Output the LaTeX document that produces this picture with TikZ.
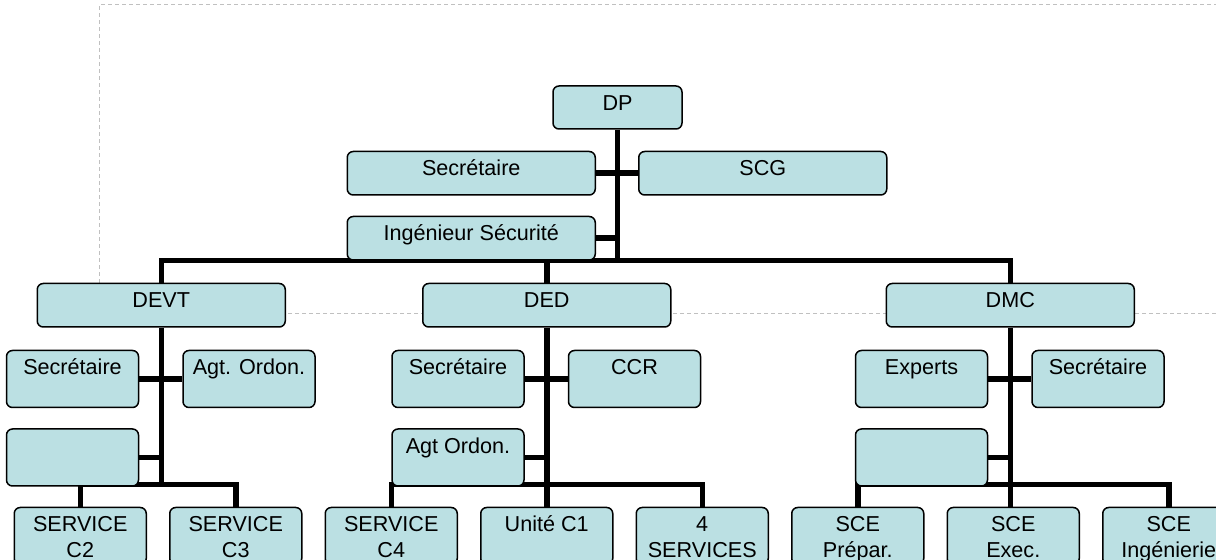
\documentclass[tikz,border=0pt]{standalone}
\usepackage{fontspec}
\setmainfont{Liberation Sans}
\usepackage{tikz}
\usetikzlibrary{positioning, backgrounds}
\definecolor{boxfill}{RGB}{187,224,227}
\definecolor{framegray}{RGB}{192,192,192}

\begin{document}
\begin{tikzpicture}[x=0.5pt, y=-0.5pt, node distance=10pt and 11pt,
    box/.style={draw, fill=boxfill, line width=0.75pt, rounded corners=3pt,
      inner sep=0pt, align=center, text height=12.25pt,
      font=\fontsize{10.8}{13}\selectfont},
    dpbox/.style={box, minimum width=64.5pt, text depth=9.25pt},
    widebox/.style={box, minimum width=124pt, text depth=9.5pt},
    smallbox/.style={box, minimum width=66pt, text depth=16.25pt},
    twobox/.style={box, minimum width=66pt, text height=25.25pt, text depth=3.25pt},
    link/.style={line width=2.75pt},
    pageframe/.style={draw=framegray, line width=0.5pt, dash pattern=on 2pt off 1.5pt}]

    \useasboundingbox (0,0) rectangle (1216,560);
    \clip (0,0) rectangle (1216,560);

    % Nodes
    \node (DP) [dpbox] at (617.5,107.5) {DP};
    \node (SEC) [below left=10.5pt and 10.75pt of DP.south, widebox] {Secrétaire};
    \node (SCG) [below right=10.5pt and 10.25pt of DP.south, widebox] {SCG};
    \node (ING) [below=of SEC, widebox] {Ingénieur Sécurité};

    \node (DEVT) [below left=76.5pt and 165.75pt of DP.south, widebox] {DEVT};
    \node (DED) [right=68pt of DEVT, widebox] {DED};
    \node (DMC) [right=107pt of DED, widebox] {DMC};

    \node (DVSEC) [below left=11pt and 11pt of DEVT.south, smallbox] {Secrétaire};
    \node (DVAGT) [below right=11pt and 10.5pt of DEVT.south, smallbox] {Agt. Ordon.};
    \node (DVBL) [below=of DVSEC, smallbox] {};

    \node (EDSEC) [below left=11pt and 11pt of DED.south, smallbox] {Secrétaire};
    \node (EDCCR) [below right=11pt and 10.5pt of DED.south, smallbox] {CCR};
    \node (EDAGT) [below=of EDSEC, smallbox] {Agt Ordon.};

    \node (EXP) [below left=11pt and 11pt of DMC.south, smallbox] {Experts};
    \node (DMSEC) [below right=11pt and 10.5pt of DMC.south, smallbox] {Secrétaire};
    \node (DMBL) [below=of EXP, smallbox] {};

    \node (UC1) [below=89.5pt of DED, smallbox] {Unité C1};
    \node (SC4) [left=of UC1, twobox] {SERVICE\\C4};
    \node (SC3) [left=of SC4, twobox] {SERVICE\\C3};
    \node (SC2) [left=of SC3, twobox] {SERVICE\\C2};
    \node (SRV) [right=of UC1, twobox] {4\\SERVICES};
    \node (SPREP) [right=of SRV, twobox] {SCE\\Prépar.};
    \node (SEXE) [right=of SPREP, twobox] {SCE\\Exec.};
    \node (SING) [right=of SEXE, twobox] {SCE\\Ingénierie};

    \begin{scope}[on background layer]
        \clip (0,0) rectangle (1216,560);
        \draw[pageframe] (1216,314) -- (99,314) -- (99,5) -- (1216,5);

        % Edges
        \draw[link] (DP.south) -- (DP.south |- ING.south);
        \draw[link] (SEC.east) -- (SCG.west);
        \draw[link] (ING.east) -- (ING.east -| DP.south);
        \draw[link] (DEVT.north) |- (DMC.north |- ING.south) -- (DMC.north);
        \draw[link] (DED.north) -- (DED.north |- ING.south);

        \draw[link] (DEVT.south) -- ([yshift=1pt]DEVT.south |- DVBL.south);
        \draw[link] (DVSEC.east) -- (DVAGT.west);
        \draw[link] (DVBL.east) -- (DVBL.east -| DEVT.south);
        \draw[link] (SC2.north) |- ([yshift=1pt]SC3.north |- DVBL.south) -- (SC3.north);

        \draw[link] (DED.south) -- (DED.south |- UC1.north);
        \draw[link] (EDSEC.east) -- (EDCCR.west);
        \draw[link] (EDAGT.east) -- (EDAGT.east -| DED.south);
        \draw[link] (SC4.north) |- ([yshift=1pt]SRV.north |- EDAGT.south) -- (SRV.north);

        \draw[link] (DMC.south) -- (DMC.south |- SEXE.north);
        \draw[link] (EXP.east) -- (DMSEC.west);
        \draw[link] (DMBL.east) -- (DMBL.east -| DMC.south);
        \draw[link] (SPREP.north) |- ([yshift=1pt]SING.north |- DMBL.south) -- (SING.north);
    \end{scope}
\end{tikzpicture}
\end{document}
